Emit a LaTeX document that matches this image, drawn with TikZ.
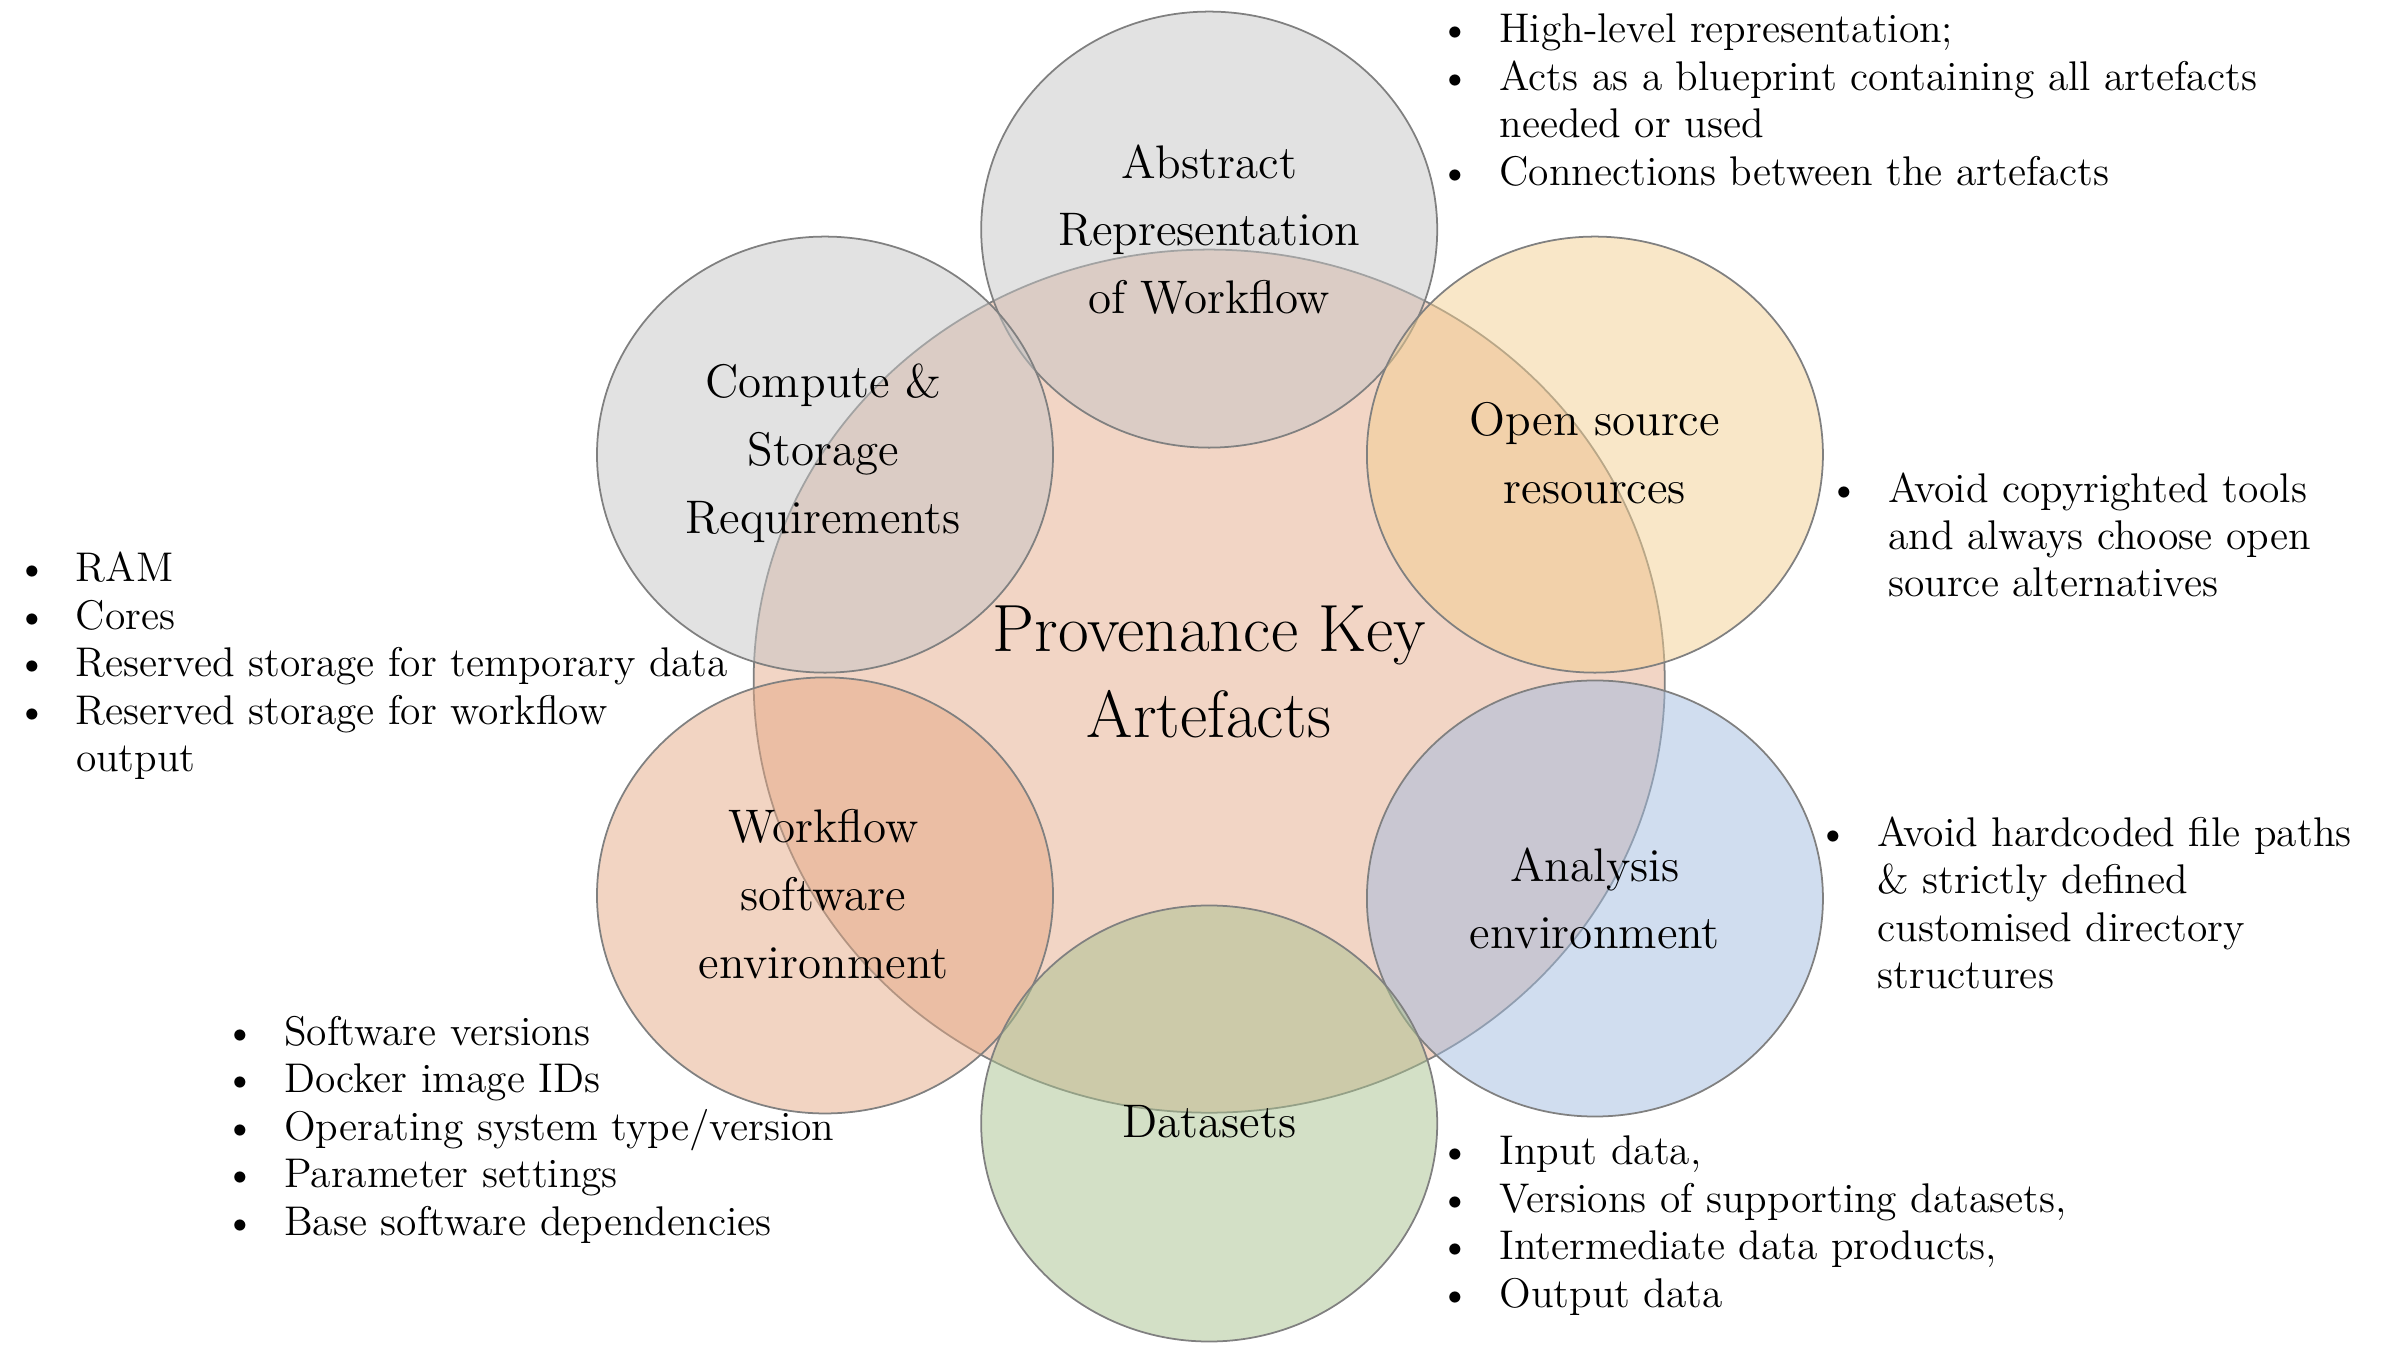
\documentclass[tikz,border=0pt]{standalone}
\usepackage{fontspec}
\usetikzlibrary{shapes.geometric}
\definecolor{cgrey}{RGB}{197,197,197}
\definecolor{cyell}{RGB}{243,207,145}
\definecolor{cblue}{RGB}{161,187,223}
\definecolor{cgreen}{RGB}{168,193,142}
\definecolor{csalm}{RGB}{229,169,133}
\definecolor{ccent}{RGB}{242,213,197}
\newcommand\bl{\makebox[0.6cm][l]{\textbullet}}
\begin{document}
\begin{tikzpicture}[x=0.015306cm,y=-0.015306cm,
  bub/.style={ellipse, draw=black!50, line width=0.5pt, inner sep=0pt, outer sep=0pt,
    minimum width=4.56cm, minimum height=4.36cm, fill opacity=0.5},
  big/.style={ellipse, draw=black!50, line width=0.5pt, inner sep=0pt, outer sep=0pt,
    minimum width=9.11cm, minimum height=8.63cm, fill=ccent},
  lab/.style={align=center, inner sep=0pt, font=\fontsize{13.4}{19.3}\selectfont},
  ctr/.style={align=center, inner sep=0pt, font=\fontsize{19}{24.7}\selectfont},
  lst/.style={anchor=base west, inner sep=0pt, font=\fontsize{11.8}{13.5}\selectfont}]
\useasboundingbox (0,0) rectangle (1568,882);
% circles
\node[big] (cen) at (790,445) {};
\node[bub, fill=cgrey] (abs) at (790,150) {};
\node[bub, fill=cgrey] (cmp) at (539,297) {};
\node[bub, fill=cyell] (opn) at (1042,297) {};
\node[bub, fill=csalm] (wfs) at (539,585) {};
\node[bub, fill=cblue] (ana) at (1042,587) {};
\node[bub, fill=cgreen] (dat) at (790,734) {};
% labels
\node[lab] (tabs) at (790,150) {Abstract\\Representation\\of Workflow};
\node[lab] (tcmp) at (538,296) {Compute \&\\Storage\\Requirements};
\node[lab] (topn) at (1042,296) {Open source\\resources};
\node[lab] (twfs) at (538,584) {Workflow\\software\\environment};
\node[lab] (tana) at (1042,587) {Analysis\\environment};
\node[lab] (tdat) at (790,733) {Datasets};
\node[ctr] (tcen) at (790,439) {Provenance Key\\Artefacts};
% lists
\node[lst] (ltr) at (940,28) {\begin{tabular}[t]{@{}l@{}l@{}}
\bl & High-level representation;\\
\bl & Acts as a blueprint containing all artefacts\\
 & needed or used\\
\bl & Connections between the artefacts
\end{tabular}};
\node[lst] (lop) at (1194,328) {\begin{tabular}[t]{@{}l@{}l@{}}
\bl & Avoid copyrighted tools\\
 & and always choose open\\
 & source alternatives
\end{tabular}};
\node[lst] (llf) at (10,380) {\begin{tabular}[t]{@{}l@{}l@{}}
\bl & RAM\\
\bl & Cores\\
\bl & Reserved storage for temporary data\\
\bl & Reserved storage for workflow\\
 & output
\end{tabular}};
\node[lst] (lan) at (1187,553) {\begin{tabular}[t]{@{}l@{}l@{}}
\bl & Avoid hardcoded file paths\\
 & \& strictly defined\\
 & customised directory\\
 & structures
\end{tabular}};
\node[lst] (lbl) at (146,683) {\begin{tabular}[t]{@{}l@{}l@{}}
\bl & Software versions\\
\bl & Docker image IDs\\
\bl & Operating system type/version\\
\bl & Parameter settings\\
\bl & Base software dependencies
\end{tabular}};
\node[lst] (lbr) at (940,761) {\begin{tabular}[t]{@{}l@{}l@{}}
\bl & Input data,\\
\bl & Versions of supporting datasets,\\
\bl & Intermediate data products,\\
\bl & Output data
\end{tabular}};
\end{tikzpicture}
\end{document}
